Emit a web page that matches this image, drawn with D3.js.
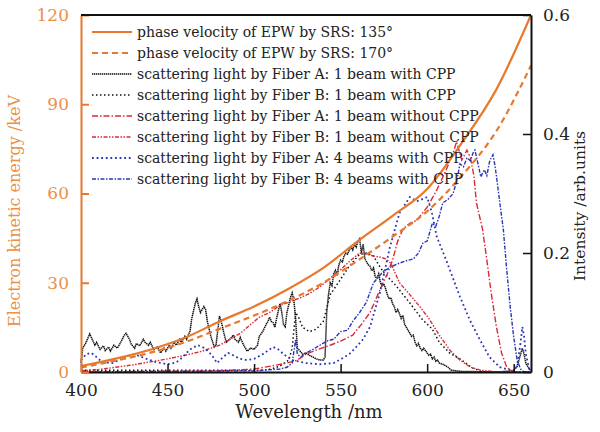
<!DOCTYPE html>
<html>
<head>
<meta charset="utf-8">
<script src="https://cdn.jsdelivr.net/npm/d3@7/dist/d3.min.js"></script>
<style>
  body { margin: 0; background: #fff; }
  text { font-family: "DejaVu Serif", serif; }
</style>
</head>
<body>
<div id="chart-area"></div>
<script>
// data: [wavelength nm, value]
const phase135 = [[400,2],[420,4.5],[440,7.5],[460,11.5],[480,17],[500,22],[520,28],[540,35],[560,44],[580,52.5],[600,61.5],[620,77],[640,95],[660,120]]
const phase170 = [[400,1.5],[420,3.8],[440,6.5],[460,10],[480,14.5],[500,19],[520,24],[540,30],[560,37.5],[580,45.5],[600,54],[620,66],[640,81],[660,103]]

const fiberA1cpp = [[400,0.015],[401,0.04],[403,0.05],[405,0.064],[406,0.058],[408,0.045],[409,0.05],[411,0.038],[413,0.044],[414,0.036],[416,0.042],[417,0.035],[419,0.045],[421,0.04],[423,0.05],[425,0.062],[426,0.065],[428,0.055],[429,0.047],[431,0.04],[432,0.048],[434,0.044],[436,0.055],[437,0.05],[439,0.045],[440,0.05],[442,0.038],[444,0.042],[446,0.032],[448,0.04],[449,0.035],[451,0.045],[452,0.04],[454,0.05],[455,0.045],[457,0.055],[458,0.05],[460,0.06],[461,0.055],[463,0.069],[464,0.09],[466,0.115],[467,0.123],[468,0.11],[469,0.1],[471,0.11],[472,0.105],[473,0.085],[475,0.06],[477,0.042],[478,0.045],[480,0.094],[481,0.085],[483,0.06],[484,0.05],[486,0.055],[488,0.062],[489,0.055],[491,0.05],[492,0.058],[494,0.045],[496,0.035],[498,0.04],[500,0.038],[502,0.045],[503,0.06],[505,0.068],[507,0.08],[508,0.085],[509,0.092],[510,0.085],[511,0.083],[512,0.075],[513,0.09],[515,0.115],[516,0.1],[517,0.08],[518,0.076],[519,0.1],[521,0.125],[522,0.133],[523,0.12],[524,0.09],[525,0.04],[526,0.037],[528,0.03],[530,0.032],[532,0.028],[534,0.025],[536,0.022],[538,0.02],[540,0.02],[541,0.025],[542,0.1],[543,0.13],[544,0.15],[545,0.145],[546,0.165],[547,0.171],[548,0.165],[549,0.18],[550,0.188],[551,0.185],[552,0.195],[553,0.2],[554,0.198],[555,0.205],[556,0.21],[557,0.205],[558,0.215],[559,0.21],[560,0.22],[561,0.224],[562,0.2],[563,0.215],[564,0.19],[565,0.185],[566,0.18],[567,0.178],[568,0.17],[569,0.175],[570,0.16],[571,0.158],[572,0.165],[573,0.15],[574,0.145],[575,0.148],[576,0.14],[577,0.13],[578,0.123],[579,0.125],[580,0.115],[581,0.11],[582,0.1],[583,0.105],[584,0.098],[585,0.09],[586,0.095],[587,0.08],[588,0.075],[589,0.07],[590,0.065],[591,0.06],[592,0.062],[593,0.05],[594,0.044],[595,0.048],[596,0.04],[597,0.036],[598,0.04],[600,0.032],[601,0.028],[602,0.03],[603,0.022],[604,0.025],[605,0.018],[606,0.02],[607,0.015],[609,0.013],[611,0.01],[612,0.008],[614,0.003],[620,0.001],[640,0],[650,0.002],[652,0.01],[654,0.03],[655,0.04],[656,0.03],[657,0.015],[659,0.005],[660,0.002]]
const fiberB1cpp = [[400,0.003],[450,0.003],[505,0.003],[510,0.005],[515,0.01],[520,0.02],[522,0.04],[524,0.1],[526,0.09],[528,0.075],[532,0.068],[536,0.072],[540,0.085],[544,0.13],[550,0.156],[555,0.178],[561,0.198],[565,0.2],[569,0.195],[572,0.18],[575,0.167],[582,0.145],[590,0.116],[597,0.089],[603,0.072],[607,0.05],[613,0.032],[619,0.022],[626,0.007],[632,0],[660,0]]
const fiberA1noCpp = [[400,0],[480,0.002],[500,0.005],[510,0.01],[519,0.015],[525,0.02],[530,0.03],[537,0.038],[544,0.045],[550,0.052],[557,0.062],[562,0.08],[567,0.1],[573,0.14],[577,0.165],[580,0.188],[583,0.22],[586,0.24],[590,0.25],[594,0.255],[600,0.277],[605.6,0.306],[611,0.34],[615,0.368],[617,0.387],[620,0.356],[623,0.373],[625,0.36],[627,0.33],[628.5,0.284],[632,0.24],[634.5,0.188],[637,0.133],[640,0.076],[643,0.032],[646,0.008],[650,0],[660,0]]
const fiberB1noCpp = [[400,0.002],[410,0.004],[420,0.008],[430,0.012],[440,0.017],[450,0.022],[460,0.028],[470,0.035],[480,0.045],[486,0.055],[492,0.065],[498,0.08],[503,0.092],[509,0.1],[515,0.112],[521,0.118],[526,0.124],[532,0.132],[538,0.143],[545,0.16],[550,0.172],[554,0.183],[558,0.193],[561,0.2],[565,0.198],[569,0.195],[573,0.193],[576,0.19],[579,0.183],[584,0.15],[590,0.13],[596,0.109],[601,0.09],[607,0.062],[613,0.037],[619,0.02],[625,0.008],[631,0.003],[640,0],[660,0]]
const fiberA4cpp = [[400,0.02],[403,0.03],[406,0.032],[409,0.025],[412,0.017],[418,0.015],[422,0.02],[425,0.025],[431,0.03],[437,0.023],[443,0.017],[450,0.013],[455,0.016],[458,0.023],[462,0.035],[464,0.04],[467.6,0.045],[471.6,0.04],[475.7,0.028],[478.6,0.015],[482,0.025],[485,0.032],[488,0.028],[492,0.022],[496,0.02],[500,0.022],[505,0.03],[511,0.042],[514,0.038],[517,0.03],[522,0.02],[530,0.015],[538,0.013],[546,0.015],[551,0.023],[555,0.03],[559,0.042],[563,0.055],[567,0.076],[572.7,0.133],[578.5,0.21],[584,0.267],[590,0.294],[594,0.287],[596,0.289],[600,0.294],[602.8,0.267],[605.6,0.227],[611,0.188],[619,0.126],[624.7,0.087],[630.5,0.054],[636,0.025],[642,0.008],[649.6,0.002],[652,0.01],[654,0.05],[655,0.076],[656,0.06],[657,0.03],[659,0.005],[660,0]]
const fiberB4cpp = [[400,0],[500,0.002],[515,0.005],[519,0.008],[522,0.015],[524,0.054],[525,0.03],[527,0.025],[530,0.032],[534,0.038],[538,0.045],[542,0.052],[546,0.055],[550,0.068],[554,0.07],[557,0.085],[561,0.1],[565,0.118],[569,0.15],[572,0.16],[575,0.17],[577,0.173],[580,0.178],[584,0.183],[588,0.187],[592,0.19],[595,0.2],[597.6,0.217],[600,0.22],[603,0.25],[605,0.245],[607,0.262],[609,0.284],[612,0.29],[615,0.3],[617,0.32],[619,0.35],[621,0.345],[623,0.36],[625,0.355],[626.5,0.368],[627.6,0.373],[629,0.355],[631,0.328],[633,0.34],[634.5,0.33],[636,0.353],[637,0.36],[638,0.365],[639,0.35],[640,0.33],[642,0.284],[644,0.24],[646,0.171],[648,0.109],[650,0.059],[652,0.02],[654,0.005],[656,0],[660,0]]

const xTicks = [400, 450, 500, 550, 600, 650]
const yLeftTicks = [0, 30, 60, 90, 120]
const yRightTicks = [0, 0.2, 0.4, 0.6]
const legendLabels = [
  "phase velocity of EPW by SRS: 135°",
  "phase velocity of EPW by SRS: 170°",
  "scattering light by Fiber A: 1 beam with CPP",
  "scattering light by Fiber B: 1 beam with CPP",
  "scattering light by Fiber A: 1 beam without CPP",
  "scattering light by Fiber B: 1 beam without CPP",
  "scattering light by Fiber A: 4 beams with CPP",
  "scattering light by Fiber B: 4 beams with CPP"
]

const ORANGE = "#e8792c", RED = "#db2a36", BLUE = "#2a36b6", BLACK = "#111"

// margens
const MARGIN = { LEFT: 81, RIGHT: 69, TOP: 15, BOTTOM: 60 }
const WIDTH = 600 - MARGIN.LEFT - MARGIN.RIGHT
const HEIGHT = 432 - MARGIN.TOP - MARGIN.BOTTOM

const svg = d3.select("#chart-area").append("svg")
  .attr("width", 600).attr("height", 432)

const g = svg.append("g").attr("transform", `translate(${MARGIN.LEFT}, ${MARGIN.TOP})`)

const x = d3.scaleLinear().domain([400, 660]).range([0, WIDTH])
const yL = d3.scaleLinear().domain([0, 120]).range([HEIGHT, 0])
const yR = d3.scaleLinear().domain([0, 0.6]).range([HEIGHT, 0])

// séries de espalhamento (eixo direito)
const series = [
  { data: fiberA1cpp, color: BLACK, dash: "1.4,0.6", w: 1.5 },
  { data: fiberB1cpp, color: BLACK, dash: "1.5,2.5", w: 1.5 },
  { data: fiberA1noCpp, color: RED, dash: "6,2,1.5,2", w: 1.4 },
  { data: fiberB1noCpp, color: RED, dash: "4,1.5,1.5,1.5,1.5,1.5", w: 1.4 },
  { data: fiberA4cpp, color: BLUE, dash: "1.8,2.8", w: 1.8 },
  { data: fiberB4cpp, color: BLUE, dash: "4,1.5,1.5,1.5", w: 1.4 }
]

const lineR = d3.line().x(d => x(d[0])).y(d => yR(d[1]))
series.forEach(s => {
  g.append("path")
    .attr("fill", "none")
    .attr("stroke", s.color)
    .attr("stroke-width", s.w)
    .attr("stroke-dasharray", s.dash)
    .attr("d", lineR(s.data))
})

// velocidade de fase (eixo esquerdo)
const lineL = d3.line().x(d => x(d[0])).y(d => yL(d[1])).curve(d3.curveMonotoneX)
g.append("path").attr("fill", "none").attr("stroke", ORANGE).attr("stroke-width", 2.2)
  .attr("d", lineL(phase135))
g.append("path").attr("fill", "none").attr("stroke", ORANGE).attr("stroke-width", 2.2)
  .attr("stroke-dasharray", "6,4")
  .attr("d", lineL(phase170))

// eixos
const xAxis = g.append("g").attr("transform", `translate(0, ${HEIGHT})`)
  .call(d3.axisBottom(x).tickValues(xTicks).tickSizeInner(-8).tickSizeOuter(0).tickPadding(12))
xAxis.select(".domain").attr("stroke", BLACK).attr("stroke-width", 2)
xAxis.selectAll(".tick line").attr("stroke", BLACK).attr("stroke-width", 1.5)
xAxis.selectAll("text").attr("font-size", 17).attr("fill", "#222").attr("font-family", "DejaVu Serif")

const yAxisL = g.append("g")
  .call(d3.axisLeft(yL).tickValues(yLeftTicks).tickSizeInner(-8).tickSizeOuter(0).tickPadding(12))
yAxisL.select(".domain").attr("stroke", ORANGE).attr("stroke-width", 2)
yAxisL.selectAll(".tick line").attr("stroke", ORANGE).attr("stroke-width", 2)
yAxisL.selectAll("text").attr("font-size", 17).attr("fill", "#ec8f48").attr("font-family", "DejaVu Serif")

const yAxisR = g.append("g").attr("transform", `translate(${WIDTH}, 0)`)
  .call(d3.axisRight(yR).tickValues(yRightTicks).tickFormat(d => d === 0 ? "0" : d3.format(".1f")(d))
    .tickSizeInner(-8).tickSizeOuter(0).tickPadding(12))
yAxisR.select(".domain").attr("stroke", BLACK).attr("stroke-width", 2)
yAxisR.selectAll(".tick line").attr("stroke", BLACK).attr("stroke-width", 1.5)
yAxisR.selectAll("text").attr("font-size", 17).attr("fill", "#222").attr("font-family", "DejaVu Serif")

// borda superior
g.append("line").attr("x1", 0).attr("x2", WIDTH).attr("y1", 0).attr("y2", 0)
  .attr("stroke", BLACK).attr("stroke-width", 2)

// títulos dos eixos
g.append("text")
  .attr("x", WIDTH / 2 + 3).attr("y", HEIGHT + 46)
  .attr("text-anchor", "middle").attr("font-size", 18).attr("fill", "#222")
  .text("Wevelength /nm")

g.append("text")
  .attr("transform", "rotate(-90)")
  .attr("x", -196).attr("y", -61)
  .attr("text-anchor", "middle").attr("font-size", 16).attr("fill", "#ec8f48")
  .text("Electron kinetic energy /keV")

g.append("text")
  .attr("transform", "rotate(-90)")
  .attr("x", -191).attr("y", WIDTH + 54)
  .attr("text-anchor", "middle").attr("font-size", 15.5).attr("fill", "#222")
  .text("Intensity /arb.units")

// legenda
const legendStyles = [
  { color: ORANGE, dash: null, w: 2.2 },
  { color: ORANGE, dash: "6,4", w: 2.2 },
  ...series.map(s => ({ color: s.color, dash: s.dash, w: s.w }))
]
const legend = g.append("g").attr("transform", "translate(11, 17)")
legendLabels.forEach((label, i) => {
  const row = legend.append("g").attr("transform", `translate(0, ${i * 21})`)
  row.append("line").attr("x1", 0).attr("x2", 40).attr("y1", 0).attr("y2", 0)
    .attr("stroke", legendStyles[i].color)
    .attr("stroke-width", legendStyles[i].w)
    .attr("stroke-dasharray", legendStyles[i].dash)
  row.append("text").attr("x", 45).attr("y", 0).attr("dy", "0.35em")
    .attr("font-size", 14).attr("fill", "#222")
    .text(label)
})
</script>
</body>
</html>
